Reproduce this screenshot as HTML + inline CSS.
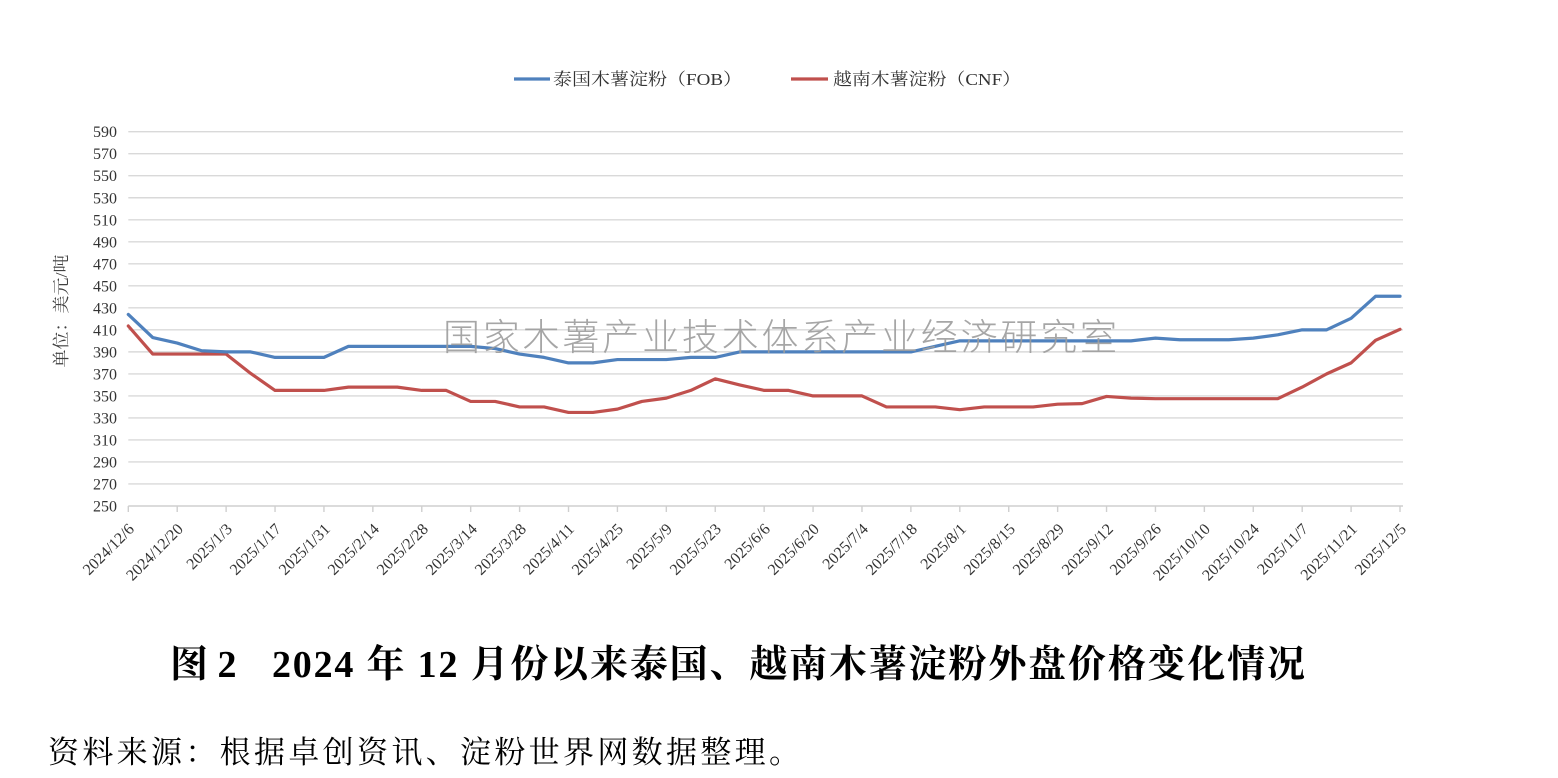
<!DOCTYPE html>
<html>
<head>
<meta charset="utf-8">
<style>
  html,body{margin:0;padding:0;background:#fff;}
  body{width:1558px;height:778px;overflow:hidden;}
  svg{display:block;}
  .tk{font-family:"Liberation Serif","Noto Serif CJK SC",serif;font-size:16px;fill:#333;}
  .cj{font-family:"Liberation Serif","Noto Serif CJK SC",serif;}
</style>
</head>
<body>
<svg width="1558" height="778" viewBox="0 0 1558 778" xmlns="http://www.w3.org/2000/svg">
  <rect width="1558" height="778" fill="#fff"/>

  <!-- Legend -->
  <line x1="514" y1="79" x2="550" y2="79" stroke="#4f81bd" stroke-width="3.2"/>
  <text class="cj" x="553" y="85" font-size="17" fill="#333" textLength="189" lengthAdjust="spacingAndGlyphs">泰国木薯淀粉（FOB）</text>
  <line x1="791" y1="79" x2="828" y2="79" stroke="#c0504d" stroke-width="3.2"/>
  <text class="cj" x="833" y="85" font-size="17" fill="#333" textLength="188" lengthAdjust="spacingAndGlyphs">越南木薯淀粉（CNF）</text>

  <!-- Gridlines -->
  <g stroke="#d9d9d9" stroke-width="1.4">
    <line x1="128.3" x2="1403" y1="131.7" y2="131.7"/>
    <line x1="128.3" x2="1403" y1="153.72" y2="153.72"/>
    <line x1="128.3" x2="1403" y1="175.73" y2="175.73"/>
    <line x1="128.3" x2="1403" y1="197.75" y2="197.75"/>
    <line x1="128.3" x2="1403" y1="219.77" y2="219.77"/>
    <line x1="128.3" x2="1403" y1="241.79" y2="241.79"/>
    <line x1="128.3" x2="1403" y1="263.8" y2="263.8"/>
    <line x1="128.3" x2="1403" y1="285.82" y2="285.82"/>
    <line x1="128.3" x2="1403" y1="307.84" y2="307.84"/>
    <line x1="128.3" x2="1403" y1="329.86" y2="329.86"/>
    <line x1="128.3" x2="1403" y1="351.87" y2="351.87"/>
    <line x1="128.3" x2="1403" y1="373.89" y2="373.89"/>
    <line x1="128.3" x2="1403" y1="395.91" y2="395.91"/>
    <line x1="128.3" x2="1403" y1="417.93" y2="417.93"/>
    <line x1="128.3" x2="1403" y1="439.94" y2="439.94"/>
    <line x1="128.3" x2="1403" y1="461.96" y2="461.96"/>
    <line x1="128.3" x2="1403" y1="483.98" y2="483.98"/>
  </g>
  <!-- X axis -->
  <g stroke="#cfcfcf" stroke-width="1.4">
    <line x1="128.3" x2="1403" y1="506" y2="506"/>
    <line x1="128.3" x2="128.3" y1="506" y2="512"/>
    <line x1="177.21" x2="177.21" y1="506" y2="512"/>
    <line x1="226.12" x2="226.12" y1="506" y2="512"/>
    <line x1="275.04" x2="275.04" y1="506" y2="512"/>
    <line x1="323.95" x2="323.95" y1="506" y2="512"/>
    <line x1="372.86" x2="372.86" y1="506" y2="512"/>
    <line x1="421.77" x2="421.77" y1="506" y2="512"/>
    <line x1="470.68" x2="470.68" y1="506" y2="512"/>
    <line x1="519.6" x2="519.6" y1="506" y2="512"/>
    <line x1="568.51" x2="568.51" y1="506" y2="512"/>
    <line x1="617.42" x2="617.42" y1="506" y2="512"/>
    <line x1="666.33" x2="666.33" y1="506" y2="512"/>
    <line x1="715.24" x2="715.24" y1="506" y2="512"/>
    <line x1="764.16" x2="764.16" y1="506" y2="512"/>
    <line x1="813.07" x2="813.07" y1="506" y2="512"/>
    <line x1="861.98" x2="861.98" y1="506" y2="512"/>
    <line x1="910.89" x2="910.89" y1="506" y2="512"/>
    <line x1="959.8" x2="959.8" y1="506" y2="512"/>
    <line x1="1008.72" x2="1008.72" y1="506" y2="512"/>
    <line x1="1057.63" x2="1057.63" y1="506" y2="512"/>
    <line x1="1106.54" x2="1106.54" y1="506" y2="512"/>
    <line x1="1155.45" x2="1155.45" y1="506" y2="512"/>
    <line x1="1204.36" x2="1204.36" y1="506" y2="512"/>
    <line x1="1253.28" x2="1253.28" y1="506" y2="512"/>
    <line x1="1302.19" x2="1302.19" y1="506" y2="512"/>
    <line x1="1351.1" x2="1351.1" y1="506" y2="512"/>
    <line x1="1400" x2="1400" y1="506" y2="512"/>
  </g>

  <!-- Y tick labels -->
  <g class="tk" text-anchor="end">
    <text x="117" y="137.2">590</text>
    <text x="117" y="159.2">570</text>
    <text x="117" y="181.2">550</text>
    <text x="117" y="203.3">530</text>
    <text x="117" y="225.3">510</text>
    <text x="117" y="247.3">490</text>
    <text x="117" y="269.3">470</text>
    <text x="117" y="291.3">450</text>
    <text x="117" y="313.3">430</text>
    <text x="117" y="335.4">410</text>
    <text x="117" y="357.4">390</text>
    <text x="117" y="379.4">370</text>
    <text x="117" y="401.4">350</text>
    <text x="117" y="423.4">330</text>
    <text x="117" y="445.4">310</text>
    <text x="117" y="467.5">290</text>
    <text x="117" y="489.5">270</text>
    <text x="117" y="511.5">250</text>
  </g>

  <!-- Y axis title -->
  <text class="cj" transform="translate(67,311) rotate(-90)" text-anchor="middle" font-size="17" fill="#404040" textLength="113" lengthAdjust="spacingAndGlyphs">单位：美元/吨</text>

  <!-- X tick labels -->
  <g class="tk" text-anchor="end">
    <text transform="translate(135,530) rotate(-45)">2024/12/6</text>
    <text transform="translate(184,530) rotate(-45)">2024/12/20</text>
    <text transform="translate(233,530) rotate(-45)">2025/1/3</text>
    <text transform="translate(282,530) rotate(-45)">2025/1/17</text>
    <text transform="translate(331,530) rotate(-45)">2025/1/31</text>
    <text transform="translate(380,530) rotate(-45)">2025/2/14</text>
    <text transform="translate(429,530) rotate(-45)">2025/2/28</text>
    <text transform="translate(478,530) rotate(-45)">2025/3/14</text>
    <text transform="translate(527,530) rotate(-45)">2025/3/28</text>
    <text transform="translate(575,530) rotate(-45)">2025/4/11</text>
    <text transform="translate(624,530) rotate(-45)">2025/4/25</text>
    <text transform="translate(673,530) rotate(-45)">2025/5/9</text>
    <text transform="translate(722,530) rotate(-45)">2025/5/23</text>
    <text transform="translate(771,530) rotate(-45)">2025/6/6</text>
    <text transform="translate(820,530) rotate(-45)">2025/6/20</text>
    <text transform="translate(869,530) rotate(-45)">2025/7/4</text>
    <text transform="translate(918,530) rotate(-45)">2025/7/18</text>
    <text transform="translate(967,530) rotate(-45)">2025/8/1</text>
    <text transform="translate(1016,530) rotate(-45)">2025/8/15</text>
    <text transform="translate(1065,530) rotate(-45)">2025/8/29</text>
    <text transform="translate(1114,530) rotate(-45)">2025/9/12</text>
    <text transform="translate(1162,530) rotate(-45)">2025/9/26</text>
    <text transform="translate(1211,530) rotate(-45)">2025/10/10</text>
    <text transform="translate(1260,530) rotate(-45)">2025/10/24</text>
    <text transform="translate(1309,530) rotate(-45)">2025/11/7</text>
    <text transform="translate(1358,530) rotate(-45)">2025/11/21</text>
    <text transform="translate(1407,530) rotate(-45)">2025/12/5</text>
  </g>

  <!-- Series -->
  <g transform="matrix(24.456 0 0 -1.10088 128.3 781.22)" fill="none" stroke-linejoin="round" stroke-linecap="round">
    <polyline vector-effect="non-scaling-stroke" stroke="#c0504d" stroke-width="3.2"
      points="0,413.5 1,388 2,388 3,388 4,388 5,370.5 6,355 7,355 8,355 9,358 10,358 11,358 12,355 13,355 14,345 15,345 16,340 17,340 18,335 19,335 20,338 21,345 22,348 23,355 24,365.5 25,360 26,355 27,355 28,350 29,350 30,350 31,340 32,340 33,340 34,337.5 35,340 36,340 37,340 38,342.5 39,343 40,349.5 41,348 42,347.5 43,347.5 44,347.5 45,347.5 46,347.5 47,347.5 48,358 49,370 50,380 51,400.5 52,410.5"/>
    <polyline vector-effect="non-scaling-stroke" stroke="#4f81bd" stroke-width="3.2"
      points="0,424 1,403 2,398 3,391 4,390 5,390 6,385 7,385 8,385 9,395 10,395 11,395 12,395 13,395 14,395 15,393 16,388 17,385 18,380 19,380 20,383 21,383 22,383 23,385 24,385 25,390 26,390 27,390 28,390 29,390 30,390 31,390 32,390 33,395 34,400 35,400 36,400 37,400 38,400 39,400 40,400 41,400 42,402.5 43,401 44,401 45,401 46,402.5 47,405.5 48,410 49,410 50,420.5 51,440.5 52,440.5"/>
  </g>

  <!-- Watermark -->
  <text x="443" y="350" font-family="'Noto Sans CJK SC','WenQuanYi Zen Hei',sans-serif" font-size="37" font-weight="300" fill="#9c9c9c" fill-opacity="0.9" textLength="674" lengthAdjust="spacing">国家木薯产业技术体系产业经济研究室</text>

  <!-- Caption -->
  <text class="cj" x="170" y="677" font-size="38" font-weight="bold" fill="#000">图 2</text>
  <text class="cj" x="272" y="677" font-size="38" font-weight="bold" fill="#000" textLength="1033" lengthAdjust="spacing">2024 年 12 月份以来泰国、越南木薯淀粉外盘价格变化情况</text>

  <!-- Source -->
  <text class="cj" x="48" y="763" font-size="31" fill="#000" textLength="752" lengthAdjust="spacing">资料来源：根据卓创资讯、淀粉世界网数据整理。</text>
</svg>
</body>
</html>
